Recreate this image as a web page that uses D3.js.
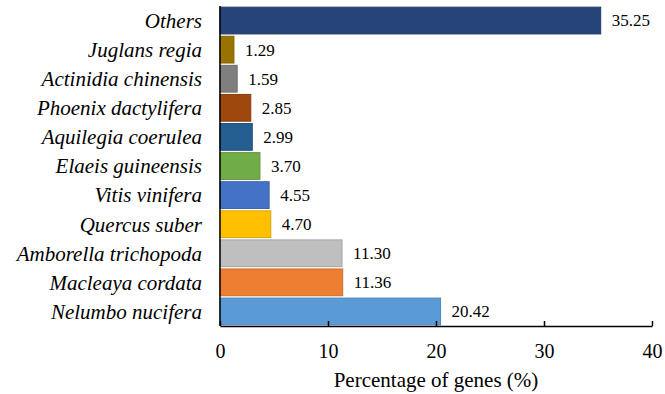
<!DOCTYPE html>
<html lang="en">
<head>
    <meta charset="UTF-8">
    <title>Percentage of genes</title>
    <script src="https://d3js.org/d3.v7.min.js"></script>
    <style>
        body { margin: 0; background: #fff; }
        svg { display: block; }
        svg text { font-family: "Liberation Serif", "Times New Roman", Tinos, "DejaVu Serif", serif; fill: #000; }
    </style>
</head>
<body>
    <svg id="chart" width="665" height="394"></svg>
    <script>
        // Data (top to bottom)
        const species = ["Others", "Juglans regia", "Actinidia chinensis", "Phoenix dactylifera",
            "Aquilegia coerulea", "Elaeis guineensis", "Vitis vinifera", "Quercus suber",
            "Amborella trichopoda", "Macleaya cordata", "Nelumbo nucifera"];
        const percents = [35.25, 1.29, 1.59, 2.85, 2.99, 3.70, 4.55, 4.70, 11.30, 11.36, 20.42];
        const barColors = ["#264478", "#997300", "#7f7f7f", "#9e480e", "#255e91", "#70ad47",
            "#4472c4", "#ffc000", "#bfbfbf", "#ed7d31", "#5b9bd5"];
        const xTicks = [0, 10, 20, 30, 40];

        const serif = '"Liberation Serif", "Times New Roman", Tinos, "DejaVu Serif", serif';

        const svg = d3.select("#chart");
        const margin = { top: 6, right: 13, bottom: 68, left: 220 };
        const width = 665 - margin.left - margin.right;
        const height = 394 - margin.top - margin.bottom;

        const g = svg.append("g").attr("transform", `translate(${margin.left},${margin.top})`);

        const x = d3.scaleLinear().domain([0, 40]).range([0, width]);
        const y = d3.scaleBand().domain(species).range([0, height]).paddingInner(0.08).paddingOuter(0.04);

        // bars
        g.selectAll("rect.bar")
            .data(species)
            .enter()
            .append("rect")
            .attr("class", "bar")
            .attr("x", 0)
            .attr("y", d => y(d))
            .attr("width", (d, i) => x(percents[i]))
            .attr("height", y.bandwidth())
            .attr("fill", (d, i) => barColors[i])
            .attr("stroke", (d, i) => d3.color(barColors[i]).darker(0.4))
            .attr("stroke-width", 1);

        // value labels
        g.selectAll("text.value")
            .data(species)
            .enter()
            .append("text")
            .attr("class", "value")
            .attr("x", (d, i) => x(percents[i]) + 11)
            .attr("y", d => y(d) + y.bandwidth() / 2)
            .attr("dy", "0.35em")
            .attr("font-family", serif)
            .style("font-size", "17px")
            .text((d, i) => percents[i].toFixed(2));

        // category labels
        g.selectAll("text.cat")
            .data(species)
            .enter()
            .append("text")
            .attr("class", "cat")
            .attr("x", -18)
            .attr("y", d => y(d) + y.bandwidth() / 2)
            .attr("dy", "0.35em")
            .attr("text-anchor", "end")
            .attr("font-family", serif)
            .style("font-size", "21px")
            .style("font-style", "italic")
            .text(d => d);

        // x axis with inward ticks
        const xAxis = g.append("g")
            .attr("transform", `translate(0,${height})`)
            .call(d3.axisBottom(x).tickValues(xTicks).tickSizeInner(-5).tickSizeOuter(0).tickPadding(18));
        xAxis.attr("font-family", serif);
        xAxis.select(".domain").attr("stroke", "#000").attr("stroke-width", 1.5);
        xAxis.selectAll(".tick line").attr("stroke", "#000").attr("stroke-width", 1.5);
        xAxis.selectAll(".tick text").style("font-size", "20px");

        // y axis line
        g.append("line")
            .attr("x1", 0).attr("x2", 0)
            .attr("y1", 0).attr("y2", height)
            .attr("stroke", "#000").attr("stroke-width", 1.5);

        // axis title
        g.append("text")
            .attr("x", width / 2)
            .attr("y", height + 61)
            .attr("text-anchor", "middle")
            .attr("font-family", serif)
            .style("font-size", "21px")
            .text("Percentage of genes (%)");
    </script>
</body>
</html>
